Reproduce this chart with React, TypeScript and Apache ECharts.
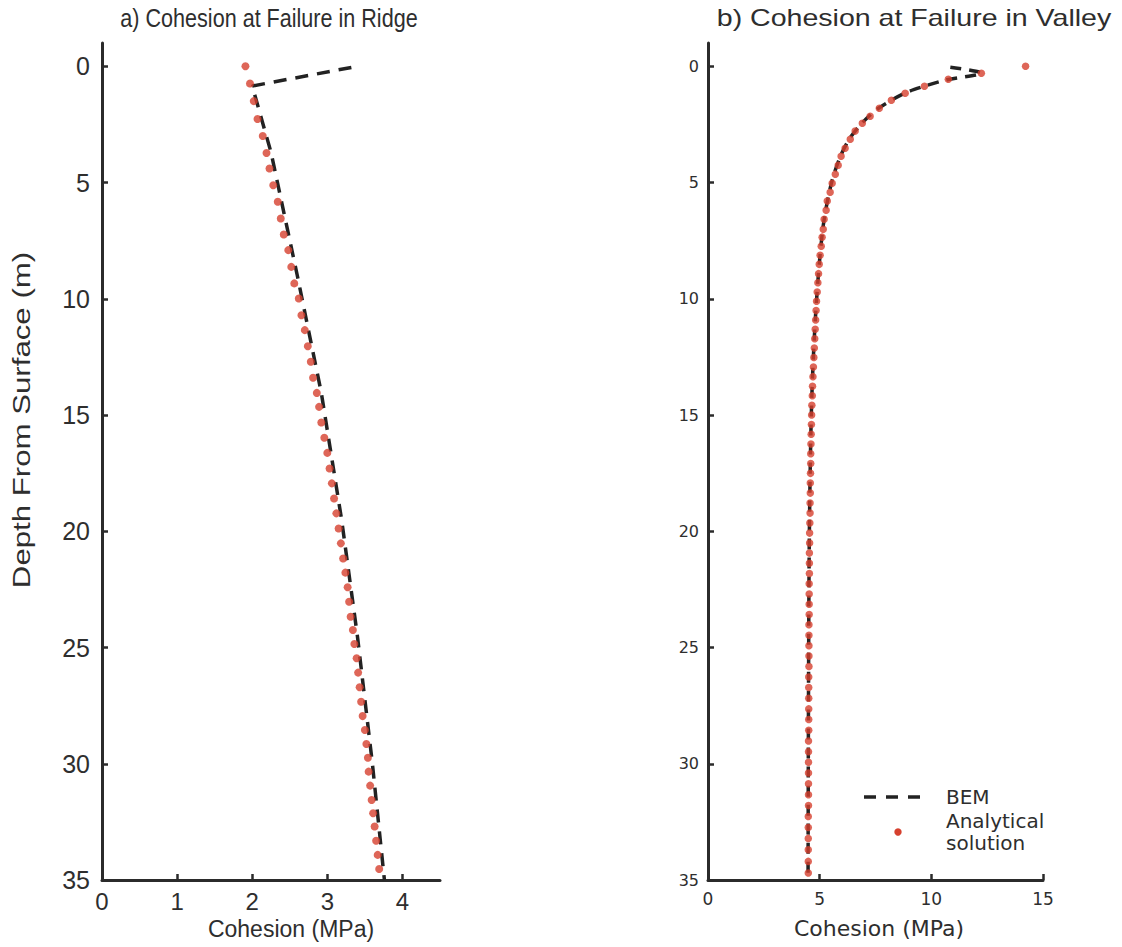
import React, { useEffect, useRef } from "react";
import * as echarts from "echarts";

// ---------- Data ----------
// a) Ridge: analytical solution (depth m, cohesion MPa)
const ridgeDepth = [
  0, 0.74, 1.5, 2.27, 3.0, 3.73, 4.4, 5.12, 5.83, 6.55, 7.24, 7.91, 8.63, 9.34, 9.99,
  10.71, 11.35, 12.04, 12.71, 13.4, 14.05, 14.65, 15.32, 15.98, 16.63, 17.3, 17.94,
  18.59, 19.23, 19.88, 20.52, 21.17, 21.78, 22.41, 23.03, 23.68, 24.25, 24.85, 25.46,
  26.08, 26.71, 27.33, 27.95, 28.55, 29.15, 29.74, 30.34, 30.94, 31.56, 32.13, 32.7,
  33.31, 33.92, 34.53,
];
const ridgeAnalytical = [
  1.91, 1.97, 2.02, 2.07, 2.14, 2.19, 2.23, 2.28, 2.34, 2.38, 2.42, 2.48, 2.52, 2.56,
  2.62, 2.655, 2.7, 2.74, 2.78, 2.81, 2.86, 2.89, 2.92, 2.96, 3.0, 3.03, 3.06, 3.09,
  3.12, 3.15, 3.18, 3.21, 3.24, 3.27, 3.29, 3.31, 3.34, 3.36, 3.39, 3.41, 3.43, 3.45,
  3.47, 3.5, 3.52, 3.54, 3.55, 3.57, 3.59, 3.61, 3.63, 3.65, 3.67, 3.69,
];
// a) Ridge: BEM
const ridgeBemDepth = [0.05, 0.85, 3.7, 9.0, 14.05, 19.5, 24.5, 30.0, 35.0];
const ridgeBem = [3.32, 2.0, 2.25, 2.6, 2.92, 3.19, 3.4, 3.6, 3.76];

// b) Valley: analytical solution
const valleyDepth = [
  0, 0.3, 0.56, 0.86, 1.16, 1.46, 1.81, 2.15, 2.45, 2.79, 3.14, 3.53, 3.87, 4.26, 4.64,
  5.03, 5.42, 5.8, 6.19, 6.58, 7.01, 7.35, 7.74, 8.13, 8.52, 8.92, 9.31, 9.71, 10.11,
  10.51, 10.91, 11.31, 11.72, 12.12, 12.53, 12.94, 13.35, 13.76, 14.17, 14.58, 15.0,
  15.41, 15.83, 16.25, 16.67, 17.09, 17.51, 17.93, 18.36, 18.79, 19.22, 19.65, 20.08,
  20.51, 20.94, 21.38, 21.82, 22.26, 22.7, 23.14, 23.58, 24.02, 24.47, 24.92, 25.37,
  25.82, 26.27, 26.72, 27.18, 27.64, 28.1, 28.56, 29.02, 29.48, 29.94, 30.4, 30.86,
  31.33, 31.8, 32.27, 32.74, 33.21, 33.7, 34.2, 34.7,
];
const valleyAnalytical = [
  14.22, 12.24, 10.76, 9.69, 8.83, 8.21, 7.67, 7.26, 6.91, 6.59, 6.37, 6.14, 5.96, 5.83,
  5.7, 5.56, 5.47, 5.34, 5.29, 5.2, 5.16, 5.11, 5.07, 5.02, 4.98, 4.95, 4.92, 4.89,
  4.86, 4.84, 4.82, 4.8, 4.78, 4.76, 4.74, 4.72, 4.7, 4.68, 4.67, 4.65, 4.64, 4.63,
  4.62, 4.61, 4.6, 4.6, 4.59, 4.58, 4.58, 4.57, 4.57, 4.56, 4.55, 4.55, 4.54, 4.54,
  4.54, 4.53, 4.53, 4.53, 4.53, 4.52, 4.52, 4.52, 4.52, 4.52, 4.51, 4.51, 4.51, 4.51,
  4.51, 4.51, 4.5, 4.5, 4.5, 4.5, 4.5, 4.5, 4.5, 4.49, 4.49, 4.49, 4.49, 4.49, 4.49,
];
// b) Valley: BEM
const valleyBemDepth = [
  0.04, 0.3, 0.58, 0.88, 1.18, 1.83, 2.48, 3.16, 3.9, 5.05, 7.0, 10.5, 14.5, 20.0, 27.0, 35.0,
];
const valleyBem = [
  10.85, 12.25, 10.7, 9.62, 8.76, 7.6, 6.86, 6.31, 5.92, 5.52, 5.14, 4.83, 4.64, 4.54, 4.5, 4.48,
];

const ridgeXTicks = [0, 1, 2, 3, 4];
const valleyXTicks = [0, 5, 10, 15];
const depthTicks = [0, 5, 10, 15, 20, 25, 30, 35];

const titles = ["a) Cohesion at Failure in Ridge", "b) Cohesion at Failure in Valley"];
const xName = "Cohesion (MPa)";
const yName = "Depth From Surface (m)";
const legendLines = ["BEM", "Analytical", "solution"];

const AXIS = "#2b2b2b";
const TXT = "#2e2e2e";
const RED = "#d6402e";
const FONT = "'Liberation Sans', Arial, sans-serif";
const WIDE = "'DejaVu Sans', Verdana, sans-serif";

function pairs(xs: number[], ys: number[]) {
  return xs.map((x, i) => [x, ys[i]]);
}

export default function App() {
  const ref = useRef<HTMLDivElement>(null);
  useEffect(() => {
    if (!ref.current) return;
    const chart = echarts.init(ref.current, undefined, { renderer: "svg" });

    const axisLine = { show: true, onZero: false, lineStyle: { color: AXIS, width: 3 } };
    const tick = (vals: number[]) => ({
      show: true,
      inside: true,
      length: 6,
      customValues: vals,
      lineStyle: { color: AXIS, width: 2.5 },
    });

    const xAxisCommon = (gi: number, max: number, vals: number[], fs: number, fam: string, margin: number) => ({
      type: "value",
      gridIndex: gi,
      min: 0,
      max,
      position: "bottom",
      axisLine,
      axisTick: tick(vals),
      splitLine: { show: false },
      axisLabel: { customValues: vals, color: TXT, fontSize: fs, fontFamily: fam, margin },
    });

    const yAxisCommon = (gi: number, fs: number, fam: string, margin: number) => ({
      type: "value",
      gridIndex: gi,
      min: -1,
      max: 35,
      inverse: true,
      axisLine,
      axisTick: tick(depthTicks),
      splitLine: { show: false },
      axisLabel: { customValues: depthTicks, color: TXT, fontSize: fs, fontFamily: fam, margin },
    });

    const txt = (
      text: string,
      x: number,
      y: number,
      fontSize: number,
      fam: string,
      extra: any = {}
    ) => ({
      type: "text",
      x,
      y,
      ...extra,
      style: {
        text,
        fill: TXT,
        fontSize,
        fontFamily: fam,
        align: "center",
        verticalAlign: "middle",
        ...(extra.style || {}),
      },
    });

    chart.setOption({
      animation: false,
      backgroundColor: "#fff",
      grid: [
        { left: 102, top: 43, width: 338, height: 837 },
        { left: 708, top: 43, width: 335, height: 837 },
      ],
      xAxis: [
        xAxisCommon(0, 4.5, ridgeXTicks, 24, FONT, 9),
        xAxisCommon(1, 15, valleyXTicks, 17, WIDE, 10),
      ],
      yAxis: [yAxisCommon(0, 25, FONT, 12), yAxisCommon(1, 16, WIDE, 9)],
      series: [
        {
          name: "BEM",
          type: "line",
          xAxisIndex: 0,
          yAxisIndex: 0,
          data: pairs(ridgeBem, ridgeBemDepth),
          showSymbol: false,
          lineStyle: { color: "#222", width: 3.5, type: [13, 9] },
          z: 2,
        },
        {
          name: "Analytical solution",
          type: "scatter",
          xAxisIndex: 0,
          yAxisIndex: 0,
          data: pairs(ridgeAnalytical, ridgeDepth),
          symbolSize: 8,
          itemStyle: { color: RED },
          z: 3,
        },
        {
          name: "BEM",
          type: "line",
          xAxisIndex: 1,
          yAxisIndex: 1,
          data: pairs(valleyBem, valleyBemDepth),
          showSymbol: false,
          smooth: 0.3,
          lineStyle: { color: "#222", width: 3.5, type: [11, 8] },
          z: 2,
        },
        {
          name: "Analytical solution",
          type: "scatter",
          xAxisIndex: 1,
          yAxisIndex: 1,
          data: pairs(valleyAnalytical, valleyDepth),
          symbolSize: 7.5,
          itemStyle: { color: RED },
          z: 3,
        },
      ],
      graphic: [
        // titles
        txt(titles[0], 269, 18, 26, FONT, { scaleX: 0.83 }),
        txt(titles[1], 914, 18, 24, FONT, { scaleX: 1.19 }),
        // axis names
        txt(xName, 291, 929, 23, FONT),
        txt(xName, 879, 928, 22, WIDE),
        txt(yName, 22, 420, 24, FONT, { rotation: Math.PI / 2, scaleX: 1.3 }),
        // legend
        {
          type: "line",
          shape: { x1: 864, y1: 797, x2: 922, y2: 797 },
          style: { stroke: "#222", lineWidth: 3.5, lineDash: [12, 10] },
        },
        {
          type: "circle",
          shape: { cx: 898, cy: 832, r: 3.7 },
          style: { fill: RED },
        },
        txt(legendLines[0], 946, 797, 20, WIDE, { style: { align: "left" } }),
        txt(legendLines[1], 946, 821, 20, WIDE, { style: { align: "left" } }),
        txt(legendLines[2], 946, 843, 20, WIDE, { style: { align: "left" } }),
      ],
    });
    return () => chart.dispose();
  }, []);
  return (
    <div
      ref={ref}
      style={{ position: "absolute", left: 0, top: 0, width: 1122, height: 947 }}
    />
  );
}
